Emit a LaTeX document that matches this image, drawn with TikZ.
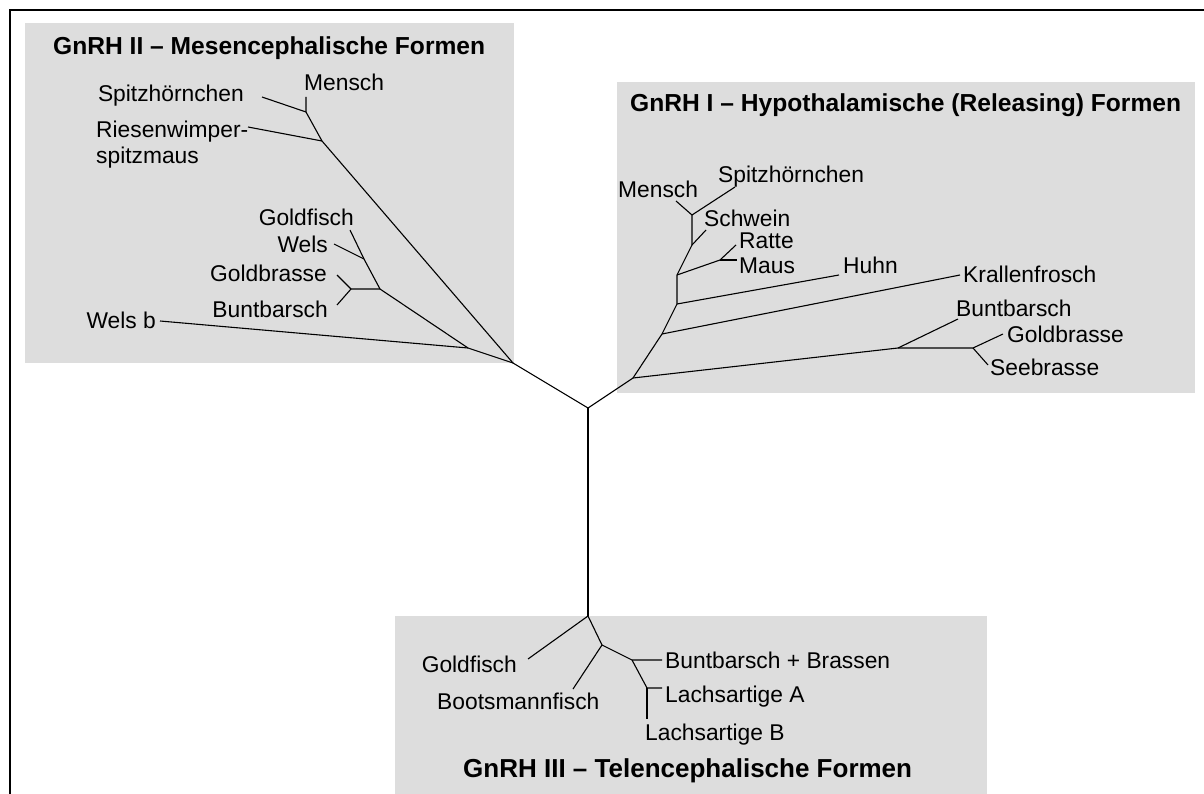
\documentclass[tikz,border=0pt]{standalone}
\usepackage{fontspec}
\setmainfont{Liberation Sans}
\definecolor{feld}{RGB}{221,221,221}
\begin{document}
\begin{tikzpicture}[x=1pt, y=-1pt,
    ast/.style={line width=1.1pt},
    lab/.style={font=\fontsize{22.8}{26}\selectfont, inner sep=0pt},
    titel/.style={font=\fontsize{24.6}{28}\selectfont\bfseries, inner sep=0pt, anchor=base west}]
    \useasboundingbox (0,0) rectangle (1204,794);
    \clip (0,0) rectangle (1204,794);

    % Rahmen (rechts und unten abgeschnitten)
    \draw[line width=2.5pt] (10,800) -- (10,10) -- (1210,10);

    % Graue Felder der drei Gruppen
    \fill[feld] (25,23) rectangle (514,363);
    \fill[feld] (617,82) rectangle (1195,393);
    \fill[feld] (395,616) rectangle (987,800);

    % Titel
    \node[titel] (t2) at (53,55) {GnRH II -- Mesencephalische Formen};
    \node[titel] (t1) at (630,112) {GnRH I -- Hypothalamische (Releasing) Formen};
    \node[titel, font=\fontsize{26}{30}\selectfont\bfseries] (t3) at (463,777) {GnRH III -- Telencephalische Formen};

    % Wurzel
    \coordinate (W) at (588,408);

    % GnRH II - innere Knoten
    \coordinate (L0) at (513,363);
    \coordinate (L1) at (322,141);
    \coordinate (L2) at (306,112);
    \coordinate (L3) at (468,348);
    \coordinate (L4) at (380,289);
    \coordinate (L5) at (364,259);
    \coordinate (L6) at (351,289);
    % GnRH II - Blattenden
    \coordinate (l-me) at (306,97);
    \coordinate (l-sp) at (262,97);
    \coordinate (l-ri) at (248,127);
    \coordinate (l-wb) at (160,321);
    \coordinate (l-gf) at (350,230);
    \coordinate (l-we) at (334,244);
    \coordinate (l-gb) at (337,275);
    \coordinate (l-bb) at (337,305);

    % GnRH I - innere Knoten
    \coordinate (R1) at (633,378);
    \coordinate (R2) at (662,334);
    \coordinate (R3) at (677,304);
    \coordinate (R4) at (677,275);
    \coordinate (R5) at (692,245);
    \coordinate (R6) at (692,215);
    \coordinate (R7) at (720,260);
    \coordinate (R8) at (898,348);
    \coordinate (R9) at (973,348);
    % GnRH I - Blattenden
    \coordinate (r-me) at (676,201);
    \coordinate (r-sp) at (735,187);
    \coordinate (r-sw) at (706,230);
    \coordinate (r-ra) at (736,245);
    \coordinate (r-ma) at (737,260);
    \coordinate (r-hu) at (839,275);
    \coordinate (r-kf) at (960,275);
    \coordinate (r-bb) at (958,319);
    \coordinate (r-gb) at (1003,334);
    \coordinate (r-sb) at (988,365);

    % GnRH III - innere Knoten
    \coordinate (B0) at (588,616);
    \coordinate (B1) at (602,645);
    \coordinate (B2) at (632,660);
    \coordinate (B3) at (647,688);
    % GnRH III - Blattenden
    \coordinate (b-gf) at (528,659);
    \coordinate (b-bm) at (573,689);
    \coordinate (b-bb) at (662,660);
    \coordinate (b-la) at (662,688);
    \coordinate (b-lb) at (647,719);

    % Beschriftungen GnRH II
    \node[lab, anchor=base west] (n-l-me) at (304,91) {Mensch};
    \node[lab, anchor=base east] (n-l-sp) at (244,102) {Spitzhörnchen};
    \node[lab, anchor=north west, align=left] (n-l-ri) at (96,121) {Riesenwimper-\\spitzmaus};
    \node[lab, anchor=base east] (n-l-wb) at (156,328) {Wels b};
    \node[lab, anchor=base east] (n-l-gf) at (354,226) {Goldfisch};
    \node[lab, anchor=base east] (n-l-we) at (328,253) {Wels};
    \node[lab, anchor=base east] (n-l-gb) at (327,282) {Goldbrasse};
    \node[lab, anchor=base east] (n-l-bb) at (328,317) {Buntbarsch};

    % Beschriftungen GnRH I
    \node[lab, anchor=base west] (n-r-me) at (618,198) {Mensch};
    \node[lab, anchor=base west] (n-r-sp) at (718,183) {Spitzhörnchen};
    \node[lab, anchor=base west] (n-r-sw) at (704,227) {Schwein};
    \node[lab, anchor=base west] (n-r-ra) at (739,249) {Ratte};
    \node[lab, anchor=base west] (n-r-ma) at (739,273) {Maus};
    \node[lab, anchor=base west] (n-r-hu) at (843,273) {Huhn};
    \node[lab, anchor=base west] (n-r-kf) at (963,283) {Krallenfrosch};
    \node[lab, anchor=base west] (n-r-bb) at (956,316) {Buntbarsch};
    \node[lab, anchor=base west] (n-r-gb) at (1007,342) {Goldbrasse};
    \node[lab, anchor=base west] (n-r-sb) at (990,375) {Seebrasse};

    % Beschriftungen GnRH III
    \node[lab, anchor=base east] (n-b-gf) at (517,672) {Goldfisch};
    \node[lab, anchor=base west] (n-b-bm) at (437,709) {Bootsmannfisch};
    \node[lab, anchor=base west] (n-b-bb) at (665,668) {Buntbarsch + Brassen};
    \node[lab, anchor=base west] (n-b-la) at (665,702) {Lachsartige A};
    \node[lab, anchor=base west] (n-b-lb) at (645,740) {Lachsartige B};

    % Stamm
    \draw[ast] (L0) -- (W) -- (R1);
    \draw[ast] (W) -- (B0);

    % Aeste GnRH II
    \draw[ast] (L0) -- (L1) -- (L2) -- (l-me);
    \draw[ast] (L2) -- (l-sp);
    \draw[ast] (L1) -- (l-ri);
    \draw[ast] (L0) -- (L3) -- (l-wb);
    \draw[ast] (L3) -- (L4) -- (L5) -- (l-gf);
    \draw[ast] (L5) -- (l-we);
    \draw[ast] (L4) -- (L6) -- (l-gb);
    \draw[ast] (L6) -- (l-bb);

    % Aeste GnRH I
    \draw[ast] (R1) -- (R2) -- (R3) -- (R4) -- (R5) -- (R6) -- (r-me);
    \draw[ast] (R6) -- (r-sp);
    \draw[ast] (R5) -- (r-sw);
    \draw[ast] (R4) -- (R7) -- (r-ra);
    \draw[ast] (R7) -- (r-ma);
    \draw[ast] (R3) -- (r-hu);
    \draw[ast] (R2) -- (r-kf);
    \draw[ast] (R1) -- (R8) -- (R9) -- (r-gb);
    \draw[ast] (R8) -- (r-bb);
    \draw[ast] (R9) -- (r-sb);

    % Aeste GnRH III
    \draw[ast] (B0) -- (b-gf);
    \draw[ast] (B0) -- (B1) -- (b-bm);
    \draw[ast] (B1) -- (B2) -- (b-bb);
    \draw[ast] (B2) -- (B3) -- (b-la);
    \draw[ast] (B3) -- (b-lb);
\end{tikzpicture}
\end{document}
